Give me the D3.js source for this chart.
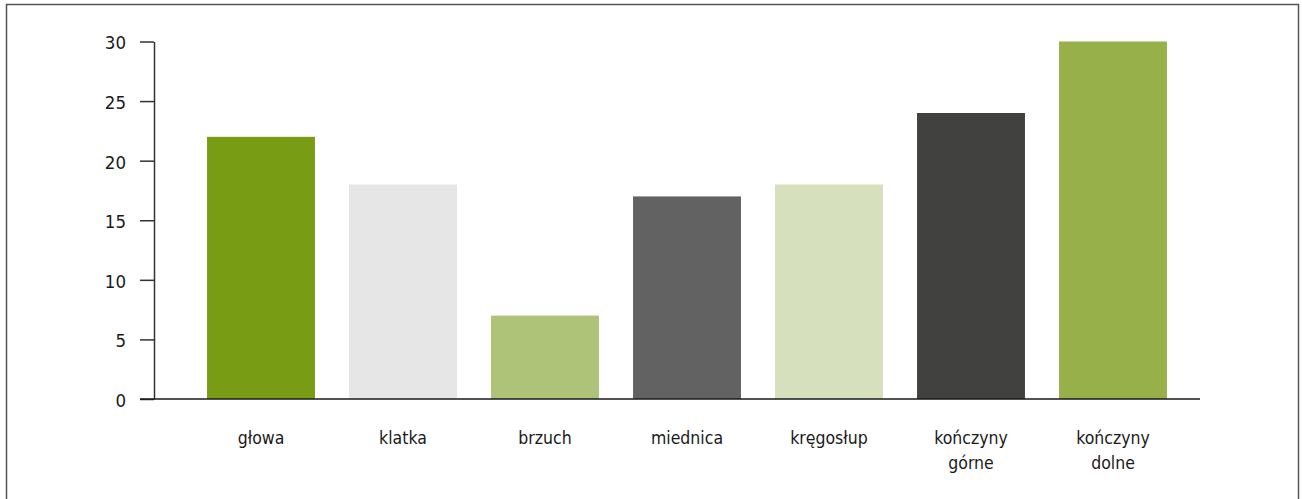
<!DOCTYPE html>
<html>
<head>
<meta charset="utf-8">
<script src="https://cdn.jsdelivr.net/npm/d3@7"></script>
<style>
  body { margin: 0; background: white; }
  svg { display: block; }
  text { font-family: "DejaVu Sans Condensed", "DejaVu Sans", sans-serif; fill: #1a1a1a; }
</style>
</head>
<body>
<svg width="1302" height="499"></svg>
<script>
var svg = d3.select("svg");

// data
var categories = ["głowa", "klatka", "brzuch", "miednica", "kręgosłup", "kończyny górne", "kończyny dolne"];
var values = [22, 18, 7, 17, 18, 24, 30];
var colors = ["#789d15", "#e6e6e6", "#afc378", "#626262", "#d6e0bd", "#41413f", "#97b04a"];
var yTicks = [0, 5, 10, 15, 20, 25, 30];

var axisLeft = 154, axisRight = 1200;
var y0 = 399, y1 = 41.5;

// frame round the chart
svg.append("rect")
  .attr("x", 6.5).attr("y", 4.5)
  .attr("width", 1292).attr("height", 520)
  .attr("fill", "none")
  .attr("stroke", "#555")
  .attr("stroke-width", 1.5);

var x = d3.scaleBand()
  .domain(categories)
  .range([190, 1184])
  .paddingInner(0.24)
  .paddingOuter(0.12);

var y = d3.scaleLinear()
  .domain([0, 30])
  .range([y0, y1]);

var data = categories.map(function(c, i) { return {"cat": c, "value": values[i], "color": colors[i]}; });

svg.selectAll(".bar")
  .data(data)
.enter().append("rect")
  .attr("class", "bar")
  .attr("x", function(d) { return x(d.cat); })
  .attr("width", x.bandwidth())
  .attr("y", function(d) { return y(d.value); })
  .attr("height", function(d) { return y0 - y(d.value); })
  .attr("fill", function(d) { return d.color; });

// y axis
var yAxis = svg.append("g")
  .attr("transform", "translate(" + axisLeft + ",0)")
  .call(d3.axisLeft(y).tickValues(yTicks).tickSize(14).tickPadding(14).tickSizeOuter(0));
yAxis.select(".domain").attr("stroke", "#333").attr("stroke-width", 1.5);
yAxis.selectAll(".tick line").attr("stroke", "#333").attr("stroke-width", 1.5);
yAxis.selectAll(".tick text")
  .attr("font-size", 18.5)
  .attr("dy", "0.4em")
  .style("font-family", "DejaVu Sans Condensed, sans-serif")
  .attr("fill", "#1a1a1a");

// x axis baseline
svg.append("line")
  .attr("x1", axisLeft - 14).attr("x2", axisRight)
  .attr("y1", y0).attr("y2", y0)
  .attr("stroke", "#1a1a1a")
  .attr("stroke-width", 1.5);

// category labels, split on space for the two-word ones
svg.selectAll(".xlabel")
  .data(data)
.enter().append("text")
  .attr("class", "xlabel")
  .attr("text-anchor", "middle")
  .attr("font-size", 17.5)
  .attr("x", function(d) { return x(d.cat) + x.bandwidth() / 2; })
  .attr("y", 444)
  .each(function(d) {
    var parts = d.cat.split(" ");
    var t = d3.select(this);
    parts.forEach(function(p, i) {
      t.append("tspan")
        .attr("x", x(d.cat) + x.bandwidth() / 2)
        .attr("dy", i === 0 ? 0 : 25)
        .text(p);
    });
  });
</script>
</body>
</html>
